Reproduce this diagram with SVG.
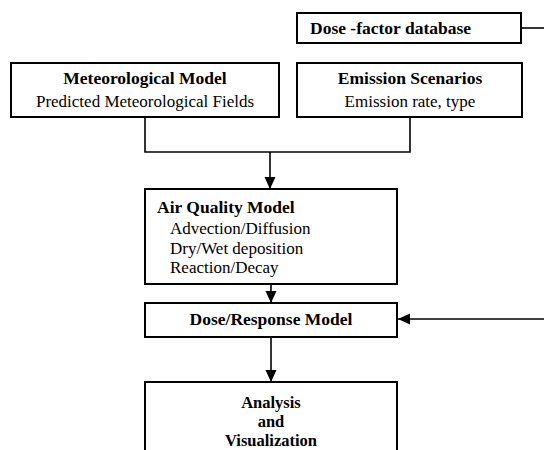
<svg xmlns="http://www.w3.org/2000/svg" width="544" height="450" viewBox="0 0 544 450">
<style>
.box{fill:#fff;stroke:#000;stroke-width:2}
.ln{fill:none;stroke:#000;stroke-width:1.6}
text{font-family:"Liberation Serif","Times New Roman",serif;fill:#000}
.b{font-weight:bold;font-size:17.5px}
.r{font-size:17px}
.c{text-anchor:middle}
.s{font-size:16.5px}
</style>
<defs>
<marker id="ah" viewBox="0 0 12 12" refX="12" refY="6" markerWidth="12" markerHeight="12" markerUnits="userSpaceOnUse" orient="auto">
<path d="M0,0.5 L12,6 L0,11.5 Z" fill="#000"/>
</marker>
</defs>
<rect width="544" height="450" fill="#fff"/>
<g id="connectors">
<path class="ln" d="M521,28 H544"/>
<path class="ln" d="M145,117 V152 H410 V117"/>
<path class="ln" d="M270,152 V189" marker-end="url(#ah)"/>
<path class="ln" d="M271,284 V303" marker-end="url(#ah)"/>
<path class="ln" d="M271,337 V382" marker-end="url(#ah)"/>
<path class="ln" d="M544,319 H398" marker-end="url(#ah)"/>
</g>
<g id="dose-factor">
<rect class="box" x="297" y="13" width="224" height="30"/>
<text class="b" x="310" y="34">Dose -factor database</text>
</g>
<g id="met-model">
<rect class="box" x="11" y="63" width="268" height="54"/>
<text class="b c" x="145" y="84">Meteorological Model</text>
<text class="r c" x="145" y="107">Predicted Meteorological Fields</text>
</g>
<g id="emission">
<rect class="box" x="297" y="63" width="225" height="54"/>
<text class="b c" x="410" y="84">Emission Scenarios</text>
<text class="r c" x="410" y="107">Emission rate, type</text>
</g>
<g id="air-quality">
<rect class="box" x="145" y="189" width="252" height="95"/>
<text class="b" x="157" y="213">Air Quality Model</text>
<text class="r" x="170" y="234">Advection/Diffusion</text>
<text class="r" x="170" y="254">Dry/Wet deposition</text>
<text class="r" x="170" y="273">Reaction/Decay</text>
</g>
<g id="dose-response">
<rect class="box" x="145" y="303" width="252" height="34"/>
<text class="b c" x="271" y="325">Dose/Response Model</text>
</g>
<g id="analysis">
<rect class="box" x="145" y="382" width="252" height="80"/>
<text class="b c s" x="271" y="408">Analysis</text>
<text class="b c s" x="271" y="427">and</text>
<text class="b c s" x="271" y="446">Visualization</text>
</g>
</svg>
